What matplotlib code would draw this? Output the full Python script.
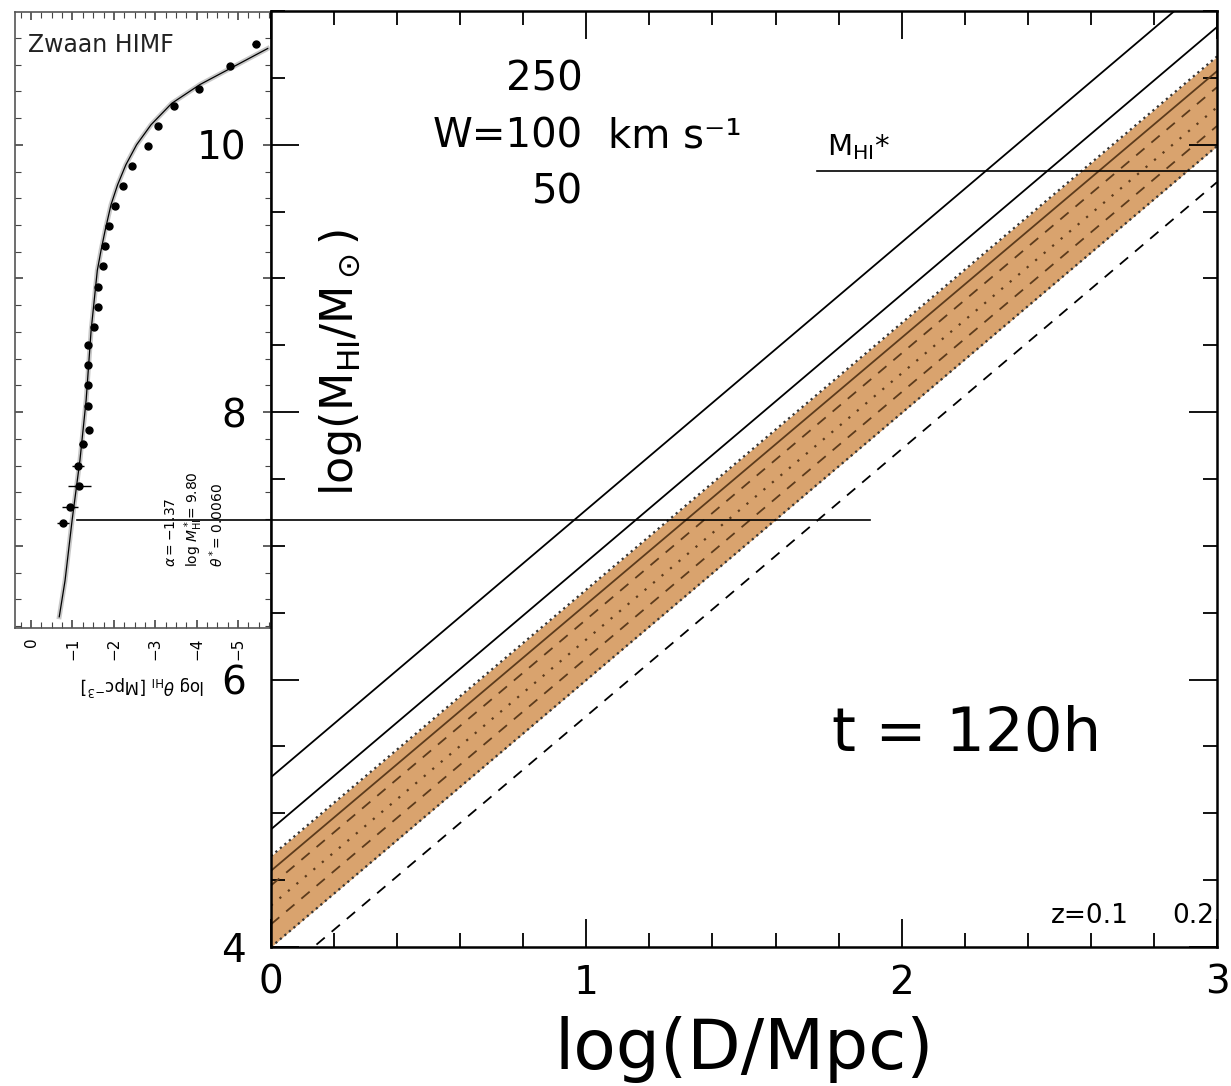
import numpy as np
import matplotlib
matplotlib.use('Agg')
import matplotlib.pyplot as plt

# ---------------- data ----------------
# main panel: straight lines given by their values at log D = 0 and log D = 3
logD = [0.0, 3.0]
w250 = [5.27, 11.27]          # black solid, W = 250 km/s
w100 = [4.88, 10.88]          # black solid, W = 100 km/s
band_low = [4.00, 9.99]       # shaded band, lower (dotted) edge
band_high = [4.68, 10.66]     # shaded band, upper (dotted) edge
band_solid = [4.57, 10.55]    # brown solid inside band
band_dash1 = [4.46, 10.43]    # brown dashed (upper)
band_dot = [4.31, 10.28]      # brown dotted
band_dash2 = [4.17, 10.14]    # brown dashed (lower)
black_dash = [3.73, 9.72]     # black dashed below band

mstar = 9.80                  # log M_HI*
mstar_x = [1.73, 3.0]
mlim = 7.19                   # horizontal limit line
mlim_x = [-0.615, 1.90]

w_labels = ['250', 'W=100', '50']
w_label_y = [10.49, 10.06, 9.64]
z_labels = ['z=0.1', '0.2']
z_label_x = [2.72, 2.99]

# inset: Zwaan et al. HI mass function (rotated, log theta horizontal)
himf_logm = [10.75, 10.59, 10.42, 10.29, 10.14, 9.99, 9.84, 9.69, 9.54, 9.39,
             9.24, 9.09, 8.94, 8.79, 8.64, 8.50, 8.35, 8.20, 8.05, 7.87,
             7.76, 7.60, 7.45, 7.29, 7.17]
himf_logtheta = [-5.43, -4.81, -4.06, -3.45, -3.07, -2.83, -2.44, -2.22, -2.03, -1.88,
                 -1.79, -1.74, -1.62, -1.62, -1.52, -1.38, -1.38, -1.38, -1.38, -1.40,
                 -1.26, -1.14, -1.16, -0.94, -0.77]
himf_err = [0.10, 0.04, 0.03, 0.03, 0.03, 0.03, 0.03, 0.03, 0.03, 0.03,
            0.03, 0.03, 0.03, 0.03, 0.03, 0.04, 0.04, 0.04, 0.05, 0.06,
            0.10, 0.15, 0.28, 0.20, 0.15]
fit_logm = [10.72, 10.57, 10.45, 10.31, 10.15, 10.00, 9.85, 9.70, 9.55, 9.36,
            9.21, 9.06, 8.91, 8.76, 8.61, 8.09, 7.64, 7.19, 6.74, 6.47]
fit_logtheta = [-5.72, -4.81, -4.08, -3.40, -2.90, -2.55, -2.29, -2.09, -1.93, -1.79,
                -1.69, -1.60, -1.55, -1.50, -1.45, -1.33, -1.18, -0.99, -0.82, -0.68]
fit_params = [r'$\alpha = -1.37$', r'log $M^*_{\rm HI}$= 9.80', r'$\theta^*$= 0.0060']
fit_params_x = [-3.38, -3.94, -4.49]

band_color = '#d9a36e'
brown = '#5c3b1c'

fig = plt.figure(figsize=(12.31, 10.86), dpi=100)

#################### inset (scanned HIMF figure) ####################
ax_in = fig.add_axes([15 / 1231, 1 - 628 / 1086, 256 / 1231, 616 / 1086])
ax_in.plot(fit_logtheta, fit_logm, color='#c8c8c8', lw=3.5)
ax_in.plot(fit_logtheta, fit_logm, color='k', lw=0.9)
ax_in.errorbar(himf_logtheta, himf_logm, xerr=himf_err, fmt='o', color='k',
               ms=5, elinewidth=1, capsize=0)
for lab, xx in zip(fit_params, fit_params_x):
    ax_in.text(xx, 6.84, lab, rotation=90, ha='center', va='bottom', fontsize=10)
ax_in.text(0.05, 0.946, 'Zwaan HIMF', transform=ax_in.transAxes,
           fontsize=17, ha='left', va='center', color='#222222')
ax_in.set_xlim(0.39, -5.80)
ax_in.set_ylim(6.386, 10.993)
ax_in.set_xticks([0, -1, -2, -3, -4, -5])
ax_in.set_xticklabels(['0', '\u22121', '\u22122', '\u22123', '\u22124', '\u22125'],
                      rotation=90, fontsize=11)
ax_in.set_xticks(np.arange(0.25, -5.8, -0.25), minor=True)
ax_in.set_yticks([7, 8, 9, 10])
ax_in.set_yticks(np.arange(6.4, 11.0, 0.2), minor=True)
ax_in.tick_params(which='both', direction='in', top=True, right=True,
                  labelleft=False, color='#444444')
ax_in.tick_params(which='major', length=6, width=1.2, pad=7)
ax_in.tick_params(which='minor', length=4, width=0.8)
ax_in.set_xlabel(r'log $\theta_{\rm HI}$ [Mpc$^{-3}$]', rotation=180, fontsize=12,
                 labelpad=9)
for s in ax_in.spines.values():
    s.set_color('#555555')
    s.set_linewidth(1.2)

#################### main panel ####################
ax = fig.add_axes([271 / 1231, 1 - 947 / 1086, 946 / 1231, 936 / 1086])
ax.patch.set_alpha(0)

ax.fill_between(logD, band_low, band_high, color=band_color, lw=0)
ax.plot(logD, band_low, color='#333333', ls=':', lw=1.6)
ax.plot(logD, band_high, color='#333333', ls=':', lw=1.6)
ax.plot(logD, band_solid, color=brown, lw=1.3)
ax.plot(logD, band_dash1, color=brown, ls=(0, (6, 5)), lw=1.3)
ax.plot(logD, band_dot, color=brown, ls=(0, (1, 4)), lw=1.6)
ax.plot(logD, band_dash2, color=brown, ls=(0, (6, 5)), lw=1.3)
ax.plot(logD, black_dash, color='k', ls=(0, (6, 5)), lw=1.3)
ax.plot(logD, w250, color='k', lw=1.3)
ax.plot(logD, w100, color='k', lw=1.3)

ax.plot(mstar_x, [mstar, mstar], color='k', lw=1.2)
ax.plot(mlim_x, [mlim, mlim], color='k', lw=1.2, clip_on=False)

for lab, yy in zip(w_labels, w_label_y):
    ax.text(0.99, yy, lab, ha='right', va='center', fontsize=29)
ax.text(1.068, w_label_y[1], 'km s\u207b\u00b9', ha='left', va='center', fontsize=29)
ax.text(1.764, 9.92, r'M$_{\rm HI}$*', ha='left', va='baseline', fontsize=21)
ax.text(1.78, 5.59, 't = 120h', ha='left', va='center', fontsize=44)
for lab, xx in zip(z_labels, z_label_x):
    ax.text(xx, 4.18, lab, ha='right', va='baseline', fontsize=19)
ax.text(0.22, 8.37, r'log(M$_{\rm HI}$/M$_\odot$)', rotation=90,
        ha='center', va='center', fontsize=32)

ax.set_xlim(0, 3)
ax.set_ylim(4, 11)
ax.set_xticks([0, 1, 2, 3])
ax.set_xticks(np.arange(0, 3.01, 0.2), minor=True)
ax.set_yticks([4, 6, 8, 10])
ax.set_yticks(np.arange(4, 11.01, 0.5), minor=True)
ax.tick_params(which='both', direction='in', top=True, right=True)
ax.tick_params(which='major', length=20, width=1.3, labelsize=28)
ax.tick_params(which='minor', length=10, width=1.3)
ax.tick_params(axis='x', pad=12)
ax.tick_params(axis='y', pad=18)
ax.set_xlabel('log(D/Mpc)', fontsize=50, labelpad=10)
for s in ax.spines.values():
    s.set_linewidth(1.8)

plt.savefig('out.png', dpi=100)
